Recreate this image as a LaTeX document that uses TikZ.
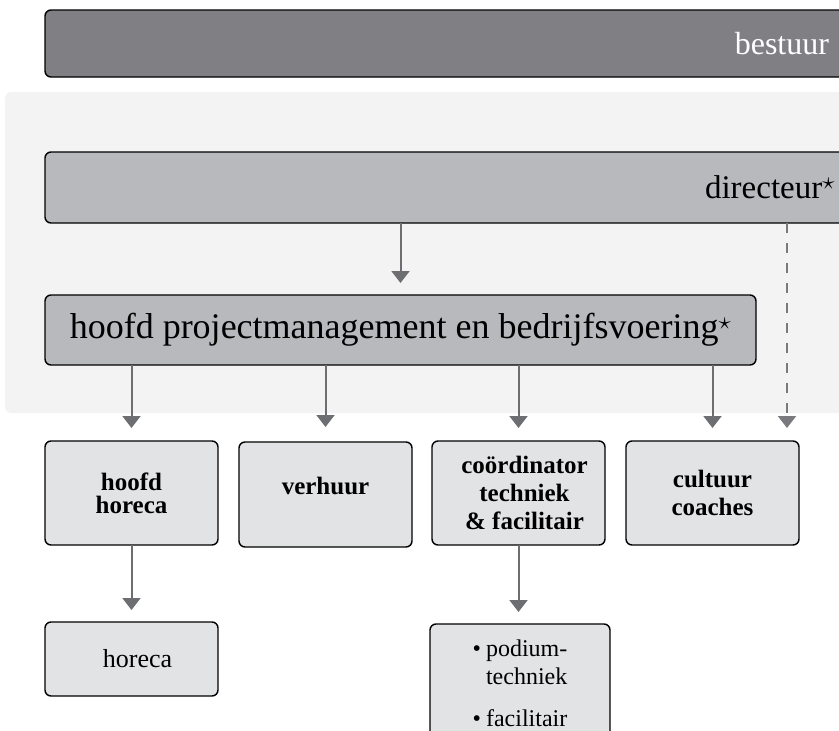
\documentclass[tikz,border=0pt]{standalone}
\usepackage{fontspec}
\setmainfont{Liberation Serif}
\usetikzlibrary{arrows.meta}
\definecolor{bestuurgray}{HTML}{807F84}
\definecolor{midgray}{HTML}{B8B9BC}
\definecolor{lightbox}{HTML}{E2E3E5}
\definecolor{panelgray}{HTML}{F3F3F3}
\definecolor{arrowgray}{HTML}{6D6E71}
\definecolor{dashgray}{HTML}{7A7A7E}
\tikzset{
  boxbase/.style={draw=black, line width=1.4pt, rounded corners=6pt, inner sep=0pt, outer sep=0pt},
  widebox/.style={boxbase, minimum width=810pt},
  unitbox/.style={boxbase, fill=lightbox, minimum width=173pt, align=center,
    font=\fontsize{25}{28}\selectfont\bfseries},
  arr/.style={draw=arrowgray, line width=2pt, -{Triangle[width=18pt,length=12pt]}},
  dasharr/.style={draw=dashgray, line width=2.2pt, dash pattern=on 10pt off 10pt,
    -{Triangle[width=18pt,length=12pt]}},
}
\begin{document}
\begin{tikzpicture}[x=1pt,y=-1pt]
\useasboundingbox (0,0) rectangle (839,731);
\clip (0,0) rectangle (839,731);
% light panel
\fill[panelgray, rounded corners=6pt] (5,92) rectangle (880,413);
% bestuur
\node[widebox, fill=bestuurgray, minimum height=67pt, text width=758pt, align=right,
  font=\fontsize{32}{36}\selectfont] (bestuur) at (450,43.5) {\color{white}bestuur};
% directeur
\node[widebox, fill=midgray, minimum height=71pt, text width=770pt, align=right,
  font=\fontsize{33}{38}\selectfont] (dir) at (450,187.5) {directeur$^{\star}$};
% hoofd projectmanagement
\node[boxbase, fill=midgray, minimum width=711pt, minimum height=70pt,
  font=\fontsize{36}{40}\selectfont] (hpm) at (400.5,330) {hoofd projectmanagement en bedrijfsvoering$^{\star}$};
% row 1
\node[unitbox, minimum height=104pt, font=\fontsize{25}{23}\selectfont\bfseries] (hh) at (131.5,493) {hoofd\\horeca};
\node[unitbox, minimum height=105pt] (verh) at (325.5,494.5) {\raisebox{0pt}[0pt][0pt]{verhuur}};
\node[unitbox, minimum height=104pt] (coord) at (518.5,493) {\hspace*{12pt}coördinator\\\hspace*{12pt}techniek\\\hspace*{12pt}\& facilitair};
\node[unitbox, minimum height=104pt] (cult) at (712.5,493) {cultuur\\coaches};
% row 2
\node[boxbase, fill=lightbox, minimum width=173pt, minimum height=74pt,
  font=\fontsize{26}{30}\selectfont] (hor) at (131.5,659) {\hspace*{12pt}horeca};
\node[boxbase, fill=lightbox, minimum width=180pt, minimum height=124pt,
  font=\fontsize{24}{28}\selectfont] (pod) at (520,686)
  {\begin{tabular}{@{}l@{\hspace{5pt}}l@{}}
   \textbullet & podium-\\
               & techniek\\[14pt]
   \textbullet & facilitair
   \end{tabular}};
% connectors
\coordinate (dx) at (787,0);
\draw[arr, shorten >=12pt] (dir.south -| hpm.north) -- (hpm.north);
\draw[arr, shorten >=13pt] (hpm.south -| hh.north) -- (hh.north);
\draw[arr, shorten >=15pt] (hpm.south -| verh.north) -- (verh.north);
\draw[arr, shorten >=13pt] (hpm.south -| coord.north) -- (coord.north);
\draw[arr, shorten >=13pt] (hpm.south -| cult.north) -- (cult.north);
\draw[dasharr, shorten >=13pt] (dir.south -| dx) -- (cult.north -| dx);
\draw[arr, shorten >=12pt] (hh.south) -- (hor.north);
\draw[arr, shorten >=12pt] (coord.south) -- (coord.south |- pod.north);
\end{tikzpicture}
\end{document}
